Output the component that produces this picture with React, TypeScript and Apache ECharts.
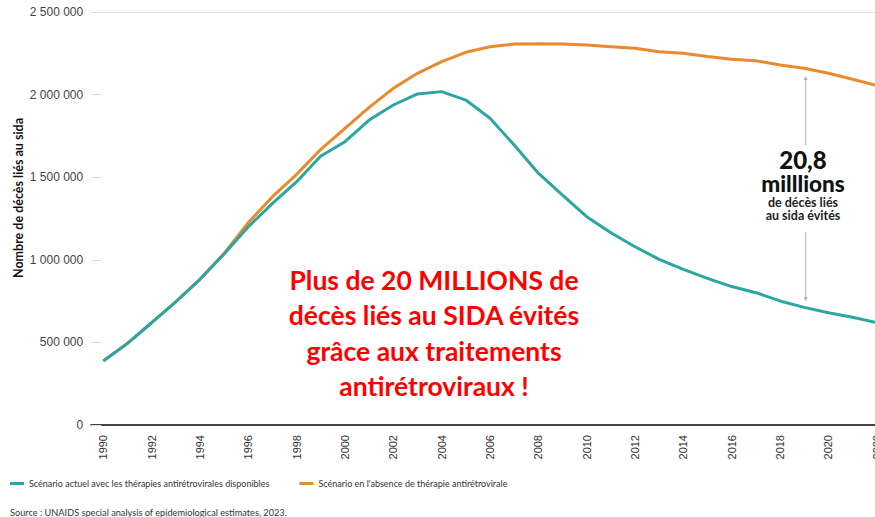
import React, { useEffect, useRef } from "react";
import * as echarts from "echarts";

const years = [
  "1990","1991","1992","1993","1994","1995","1996","1997","1998","1999","2000",
  "2001","2002","2003","2004","2005","2006","2007","2008","2009","2010",
  "2011","2012","2013","2014","2015","2016","2017","2018","2019","2020","2021","2022",
];

const actuel = [
  387000, 494000, 619000, 746000, 882000, 1035000, 1200000, 1342000, 1473000, 1628000, 1715000,
  1846000, 1937000, 2004000, 2018000, 1967000, 1857000, 1695000, 1524000, 1392000, 1261000,
  1164000, 1079000, 1003000, 942000, 888000, 838000, 801000, 751000, 712000, 680000, 652000, 620000,
];

const sansTraitement = [
  387000, 494000, 619000, 746000, 882000, 1039000, 1225000, 1382000, 1517000, 1669000, 1796000,
  1923000, 2038000, 2129000, 2199000, 2256000, 2290000, 2306000, 2308000, 2306000, 2300000,
  2290000, 2280000, 2260000, 2250000, 2230000, 2214000, 2205000, 2179000, 2159000, 2129000, 2093000, 2055000,
];

const seriesNames = [
  "Scénario actuel avec les thérapies antirétrovirales disponibles",
  "Scénario en l'absence de thérapie antirétrovirale",
];

const yTicks = [0, 500000, 1000000, 1500000, 2000000, 2500000];

const TEAL = "#2ba6a2";
const ORANGE = "#e88a2e";

function fmt(v: number): string {
  return String(v).replace(/\B(?=(\d{3})+(?!\d))/g, " ");
}

export default function App() {
  const ref = useRef<HTMLDivElement>(null);
  useEffect(() => {
    if (!ref.current) return;
    const chart = echarts.init(ref.current, undefined, { renderer: "svg" });
    const arrowColor = "#b0b0b0";
    chart.setOption({
      animation: false,
      backgroundColor: "#ffffff",
      grid: {
        left: 91.2,
        width: 797.6,
        top: 12,
        bottom: 92,
        containLabel: false,
        outerBoundsMode: "none",
      },
      legend: {
        left: 10,
        top: 479,
        padding: 0,
        itemWidth: 14,
        itemHeight: 3,
        itemGap: 30,
        icon: "rect",
        textStyle: { fontFamily: "Lato", fontSize: 9, color: "#333" },
        data: seriesNames,
      },
      xAxis: {
        type: "category",
        data: years,
        boundaryGap: true,
        axisLine: { show: true, lineStyle: { color: "#444", width: 2 } },
        axisTick: { show: false },
        axisLabel: {
          interval: 1,
          rotate: 90,
          margin: 10,
          fontFamily: "Liberation Sans",
          fontSize: 11,
          color: "#333",
        },
      },
      yAxis: {
        type: "value",
        min: yTicks[0],
        max: yTicks[yTicks.length - 1],
        interval: 500000,
        axisLine: { show: false },
        axisTick: { show: true, inside: true, length: 10, lineStyle: { color: "#dddddd" } },
        splitLine: { show: false },
        axisLabel: {
          margin: 8,
          fontFamily: "Liberation Sans",
          fontSize: 12,
          color: "#444",
          formatter: (v: number) => fmt(v),
        },
      },
      series: [
        {
          name: seriesNames[0],
          type: "line",
          data: actuel,
          showSymbol: false,
          smooth: false,
          lineStyle: { color: TEAL, width: 3 },
          itemStyle: { color: TEAL },
          z: 3,
        },
        {
          name: seriesNames[1],
          type: "line",
          data: sansTraitement,
          showSymbol: false,
          smooth: false,
          lineStyle: { color: ORANGE, width: 3 },
          itemStyle: { color: ORANGE },
          z: 2,
          markLine: {
            silent: true,
            symbol: "none",
            label: { show: false },
            lineStyle: { color: "#dddddd", width: 1, type: "solid" },
            data: [{ yAxis: yTicks[yTicks.length - 1] }],
          },
        },
      ],
      graphic: [
        {
          type: "text",
          x: 18,
          y: 198,
          rotation: Math.PI / 2,
          style: {
            text: "Nombre de décès liés au sida",
            fontFamily: "Lato",
            fontWeight: "bold",
            fontSize: 12.5,
            fill: "#111",
            textAlign: "center",
            textVerticalAlign: "middle",
          },
        },
        {
          type: "text",
          x: 434,
          y: 262,
          style: {
            text: "Plus de 20 MILLIONS de\ndécès liés au SIDA évités\ngrâce aux traitements\nantirétroviraux !",
            fontFamily: "Lato",
            fontWeight: "bold",
            fontSize: 26.5,
            lineHeight: 35.5,
            fill: "#ff0000",
            textAlign: "center",
          },
        },
        {
          type: "line",
          shape: { x1: 805.7, y1: 78, x2: 805.7, y2: 145 },
          style: { stroke: arrowColor, lineWidth: 1 },
        },
        {
          type: "polygon",
          shape: { points: [[805.7, 76], [803.7, 80], [807.7, 80]] },
          style: { fill: arrowColor },
        },
        {
          type: "line",
          shape: { x1: 805.7, y1: 232, x2: 805.7, y2: 299 },
          style: { stroke: arrowColor, lineWidth: 1 },
        },
        {
          type: "polygon",
          shape: { points: [[805.7, 301], [803.7, 297], [807.7, 297]] },
          style: { fill: arrowColor },
        },
        {
          type: "text",
          x: 803,
          y: 159,
          style: {
            text: "20,8",
            fontFamily: "Lato",
            fontWeight: 900,
            fontSize: 24,
            fill: "#111",
            textAlign: "center",
            textVerticalAlign: "middle",
          },
        },
        {
          type: "text",
          x: 803,
          y: 183.5,
          style: {
            text: "milllions",
            fontFamily: "Lato",
            fontWeight: 900,
            fontSize: 22.5,
            fill: "#111",
            textAlign: "center",
            textVerticalAlign: "middle",
          },
        },
        {
          type: "text",
          x: 803,
          y: 202.5,
          style: {
            text: "de décès liés",
            fontFamily: "Lato",
            fontWeight: "bold",
            fontSize: 12.5,
            fill: "#222",
            textAlign: "center",
            textVerticalAlign: "middle",
          },
        },
        {
          type: "text",
          x: 803,
          y: 215.8,
          style: {
            text: "au sida évités",
            fontFamily: "Lato",
            fontWeight: "bold",
            fontSize: 12.5,
            fill: "#222",
            textAlign: "center",
            textVerticalAlign: "middle",
          },
        },
        {
          type: "text",
          x: 10,
          y: 512,
          style: {
            text: "Source : UNAIDS special analysis of epidemiological estimates, 2023.",
            fontFamily: "Lato",
            fontSize: 9.2,
            fill: "#333",
            textVerticalAlign: "middle",
          },
        },
      ],
    });
    return () => chart.dispose();
  }, []);
  return (
    <div
      ref={ref}
      style={{ position: "absolute", left: 0, top: 0, width: 875, height: 517 }}
    />
  );
}
